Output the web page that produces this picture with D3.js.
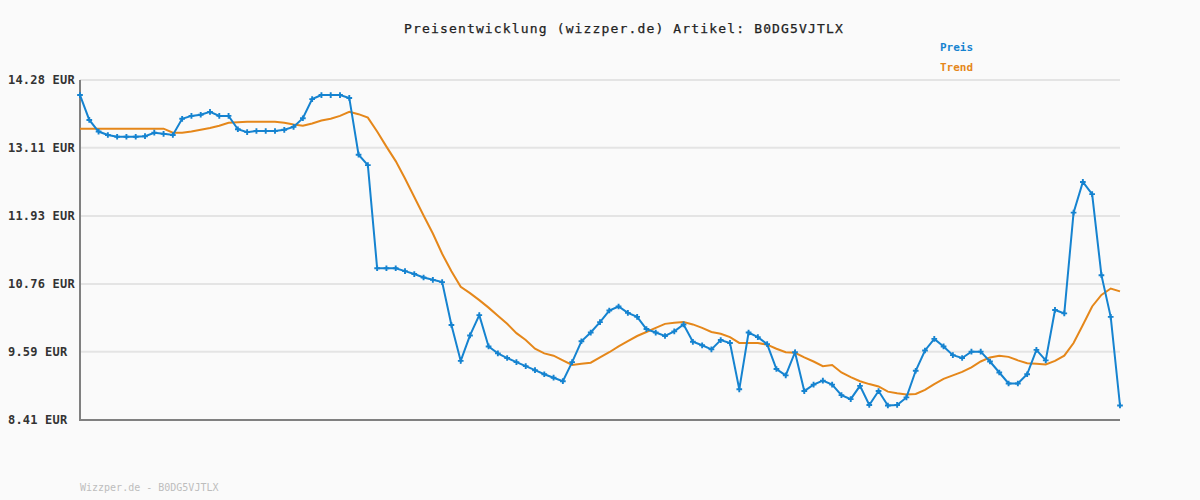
<!DOCTYPE html>
<html>
<head>
<meta charset="utf-8">
<script src="https://cdn.jsdelivr.net/npm/d3@7"></script>
<style>
  html, body { margin: 0; padding: 0; background: #fafafa; }
  svg { display: block; }
</style>
</head>
<body>
<svg id="chart" width="1200" height="500"></svg>
<script>
const title = "Preisentwicklung (wizzper.de) Artikel: B0DG5VJTLX";
const footer = "Wizzper.de - B0DG5VJTLX";
const seriesNames = ["Preis", "Trend"];
const yTicks = [14.28, 13.11, 11.93, 10.76, 9.59, 8.41];
const yTickLabels = ["14.28 EUR", "13.11 EUR", "11.93 EUR", "10.76 EUR", "9.59 EUR", "8.41 EUR"];

const preis = [
  14.02, 13.59, 13.39, 13.33, 13.30, 13.30, 13.30, 13.31, 13.37, 13.35,
  13.33, 13.61, 13.66, 13.68, 13.73, 13.66, 13.66, 13.43, 13.38, 13.40,
  13.40, 13.40, 13.42, 13.47, 13.62, 13.95, 14.02, 14.02, 14.02, 13.97,
  12.99, 12.81, 11.03, 11.03, 11.03, 10.98, 10.93, 10.87, 10.83, 10.79,
  10.05, 9.43, 9.87, 10.22, 9.68, 9.56, 9.48, 9.41, 9.34, 9.27,
  9.20, 9.14, 9.08, 9.41, 9.77, 9.92, 10.10, 10.30, 10.37, 10.26,
  10.19, 9.98, 9.92, 9.86, 9.94, 10.06, 9.76, 9.70, 9.63, 9.79,
  9.74, 8.94, 9.92, 9.84, 9.72, 9.29, 9.18, 9.58, 8.91, 9.02,
  9.09, 9.02, 8.84, 8.77, 9.00, 8.67, 8.91, 8.66, 8.67, 8.80,
  9.26, 9.61, 9.81, 9.68, 9.53, 9.48, 9.59, 9.59, 9.42, 9.23,
  9.04, 9.04, 9.20, 9.62, 9.44, 10.31, 10.25, 11.99, 12.52, 12.31,
  10.91, 10.19, 8.66
];

const trend = [
  13.44, 13.44, 13.44, 13.44, 13.44, 13.44, 13.44, 13.44, 13.44, 13.44,
  13.37, 13.37, 13.39, 13.42, 13.45, 13.49, 13.54, 13.55, 13.56, 13.56,
  13.56, 13.56, 13.54, 13.51, 13.49, 13.53, 13.58, 13.61, 13.66, 13.73,
  13.69, 13.63, 13.39, 13.13, 12.88, 12.58, 12.26, 11.94, 11.63, 11.28,
  10.98, 10.71, 10.60, 10.48, 10.35, 10.21, 10.07, 9.91, 9.79, 9.64,
  9.56, 9.52, 9.44, 9.36, 9.38, 9.40, 9.49, 9.58, 9.68, 9.77,
  9.86, 9.93, 10.00, 10.07, 10.09, 10.10, 10.06, 10.00, 9.93, 9.90,
  9.84, 9.74, 9.74, 9.74, 9.71, 9.64, 9.58, 9.57, 9.49, 9.42,
  9.34, 9.36, 9.23, 9.15, 9.08, 9.03, 8.99, 8.90, 8.87, 8.85,
  8.86, 8.93, 9.03, 9.12, 9.18, 9.24, 9.32, 9.42, 9.49, 9.52,
  9.50, 9.44, 9.39, 9.38, 9.37, 9.43, 9.52, 9.74, 10.05, 10.37,
  10.57, 10.68, 10.63
];

const W = 1200, H = 500;
const margin = { left: 80, right: 80, top: 80, bottom: 80 };
const svg = d3.select("#chart");

const x = d3.scaleLinear().domain([0, preis.length - 1]).range([margin.left, W - margin.right]);
const y = d3.scaleLinear().domain([8.41, 14.28]).range([H - margin.bottom, margin.top]);

const blue = "#1583d0";
const orange = "#e5871a";
const mono = "'DejaVu Sans Mono', 'Liberation Mono', monospace";

svg.append("rect").attr("width", W).attr("height", H).attr("fill", "#fafafa");

// gridlines
svg.append("g")
  .selectAll("line").data(yTicks.slice(0, -1)).join("line")
  .attr("x1", x(0)).attr("x2", x(preis.length - 1))
  .attr("y1", d => y(d)).attr("y2", d => y(d))
  .attr("stroke", "#e4e4e4").attr("stroke-width", 2);

// y axis labels via d3 axis
const yAxis = d3.axisLeft(y).tickValues(yTicks).tickSize(0).tickPadding(5)
  .tickFormat((d, i) => yTickLabels[i]);
const gy = svg.append("g").attr("transform", `translate(${margin.left},0)`).call(yAxis);
gy.select(".domain").remove();
gy.selectAll("text")
  .attr("x", -72).attr("text-anchor", "start")
  .attr("fill", "#333").attr("font-family", mono).attr("font-size", 12).attr("font-weight", "bold")
  .attr("letter-spacing", 0.2);

// axes lines
svg.append("line").attr("x1", margin.left).attr("x2", margin.left)
  .attr("y1", margin.top).attr("y2", H - margin.bottom + 1)
  .attr("stroke", "#808080").attr("stroke-width", 2);
svg.append("line").attr("x1", margin.left - 1).attr("x2", W - margin.right)
  .attr("y1", H - margin.bottom).attr("y2", H - margin.bottom)
  .attr("stroke", "#808080").attr("stroke-width", 2);

// lines
const line = d3.line().x((d, i) => x(i)).y(d => y(d));
svg.append("path").datum(trend).attr("d", line)
  .attr("fill", "none").attr("stroke", orange).attr("stroke-width", 2);
svg.append("path").datum(preis).attr("d", line)
  .attr("fill", "none").attr("stroke", blue).attr("stroke-width", 2);

// markers
const sym = d3.symbol().type(d3.symbolCross).size(18);
svg.append("g").selectAll("path").data(preis).join("path")
  .attr("d", sym)
  .attr("transform", (d, i) => `translate(${x(i)},${y(d)})`)
  .attr("fill", blue);

// title
svg.append("text").attr("x", 624).attr("y", 33).attr("text-anchor", "middle")
  .attr("font-family", mono).attr("font-size", 13).attr("letter-spacing", 1.15)
  .attr("fill", "#222").attr("stroke", "#222").attr("stroke-width", 0.25).text(title);

// legend
const legendColors = [blue, orange];
svg.append("g").selectAll("text").data(seriesNames).join("text")
  .attr("x", 940).attr("y", (d, i) => 51 + i * 20)
  .attr("font-family", mono).attr("font-size", 11).attr("font-weight", "bold")
  .attr("fill", (d, i) => legendColors[i]).text(d => d);

// footer
svg.append("text").attr("x", 80).attr("y", 491)
  .attr("font-family", mono).attr("font-size", 10)
  .attr("fill", "#bdbdbd").text(footer);
</script>
</body>
</html>
